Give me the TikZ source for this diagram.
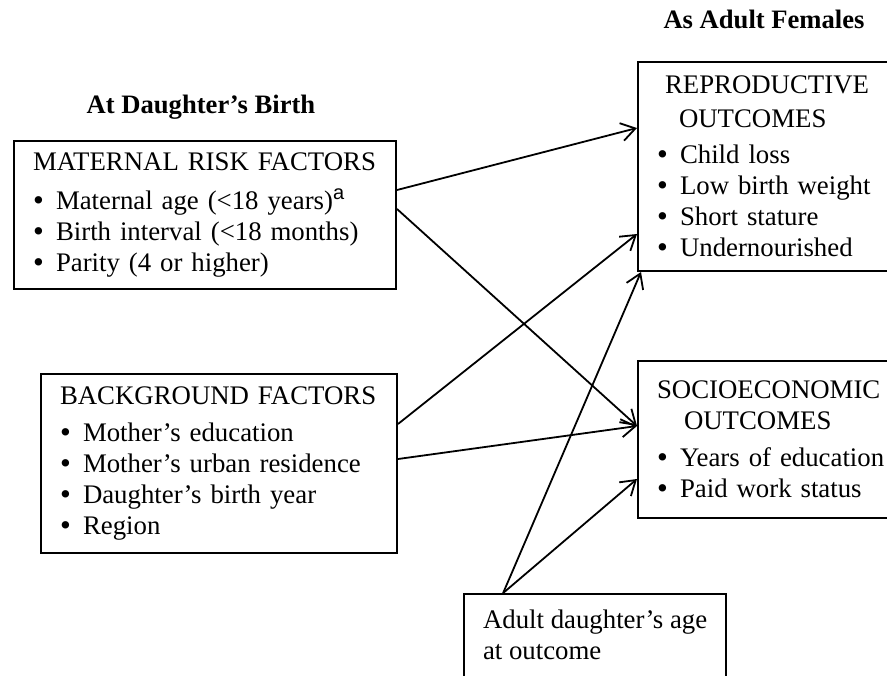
\documentclass[tikz,border=0pt]{standalone}
\usepackage{fontspec}
\setmainfont{Liberation Serif}
\newfontfamily\supfont{Liberation Sans}
\usetikzlibrary{arrows.meta,positioning}
\newcommand{\bitem}[1]{\makebox[11.5pt][l]{\raisebox{-0.6pt}{\scalebox{1.15}{\textbullet}}}#1}

\begin{document}
\begin{tikzpicture}[x=0.5pt, y=-0.5pt,
		box/.style={draw, line width=1pt, anchor=north west, align=left,
			inner xsep=9.5pt, inner ysep=0pt, font=\fontsize{13.4}{15.5}\selectfont},
		head/.style={anchor=base, font=\fontsize{13.3}{15}\selectfont\bfseries},
		link/.style={line width=0.9pt, -{Straight Barb[length=7pt,width=9pt]}}]
			\useasboundingbox (0,0) rectangle (887,675);
			\clip (0,0) rectangle (887,675);
			% headings
			\node[head] (hdbirth) at (201,113) {At Daughter's Birth};
			\node[head] (hdadult) at (764,28) {As Adult Females};
			
			% left column
			\node[box, text width=172pt, minimum width=191pt, minimum height=74pt] (mat) at (13,140)
				{MATERNAL RISK FACTORS\\[4pt]
				\bitem{Maternal age (<18 years)\raisebox{5pt}{\fontsize{10}{10}\supfont a}}\\
				\bitem{Birth interval (<18 months)}\\
				\bitem{Parity (4 or higher)}};
			\node[box, text width=159pt, minimum width=178pt, minimum height=89.5pt] (bg) at (40,373)
				{BACKGROUND FACTORS\\[3pt]
				\bitem{Mother's education}\\
				\bitem{Mother's urban residence}\\
				\bitem{Daughter's birth year}\\
				\bitem{Region}};
			
			% right column
			\node[box, text width=121pt, minimum width=140pt, minimum height=104.5pt] (rep) at (637,61)
				{\hspace*{4pt}REPRODUCTIVE\\[1.5pt]
				\hspace*{11pt}OUTCOMES\\[2.5pt]
				\bitem{Child loss}\\
				\bitem{Low birth weight}\\
				\bitem{Short stature}\\
				\bitem{Undernourished}};
			\node[box, text width=121pt, minimum width=140pt, minimum height=78.5pt] (soc) at (637,360)
				{SOCIOECONOMIC\\
				\hspace*{13.5pt}OUTCOMES\\[3pt]
				\bitem{Years of education}\\
				\bitem{Paid work status}};
			
			% control
			\node[box, inner ysep=8pt, text depth=8pt, minimum width=131pt] (age) at (463,593)
				{Adult daughter's age\\at outcome};
			
			% paths
			\draw[link] ([yshift=12.5pt]mat.east) -- ([yshift=19.25pt]rep.west);
			\draw[link] ([yshift=3pt]mat.east) -- ([yshift=6.75pt]soc.west);
			\draw[link] ([yshift=19.75pt]bg.east) -- ([yshift=-33.75pt]rep.west);
			\draw[link] ([yshift=2.25pt]bg.east) -- ([yshift=6.75pt]soc.west);
			\draw[link] ([xshift=-46pt]age.north) -- ([xshift=-68.5pt]rep.south);
			\draw[link] ([xshift=-46pt]age.north) -- ([yshift=-19.75pt]soc.west);
		\end{tikzpicture}
\end{document}
